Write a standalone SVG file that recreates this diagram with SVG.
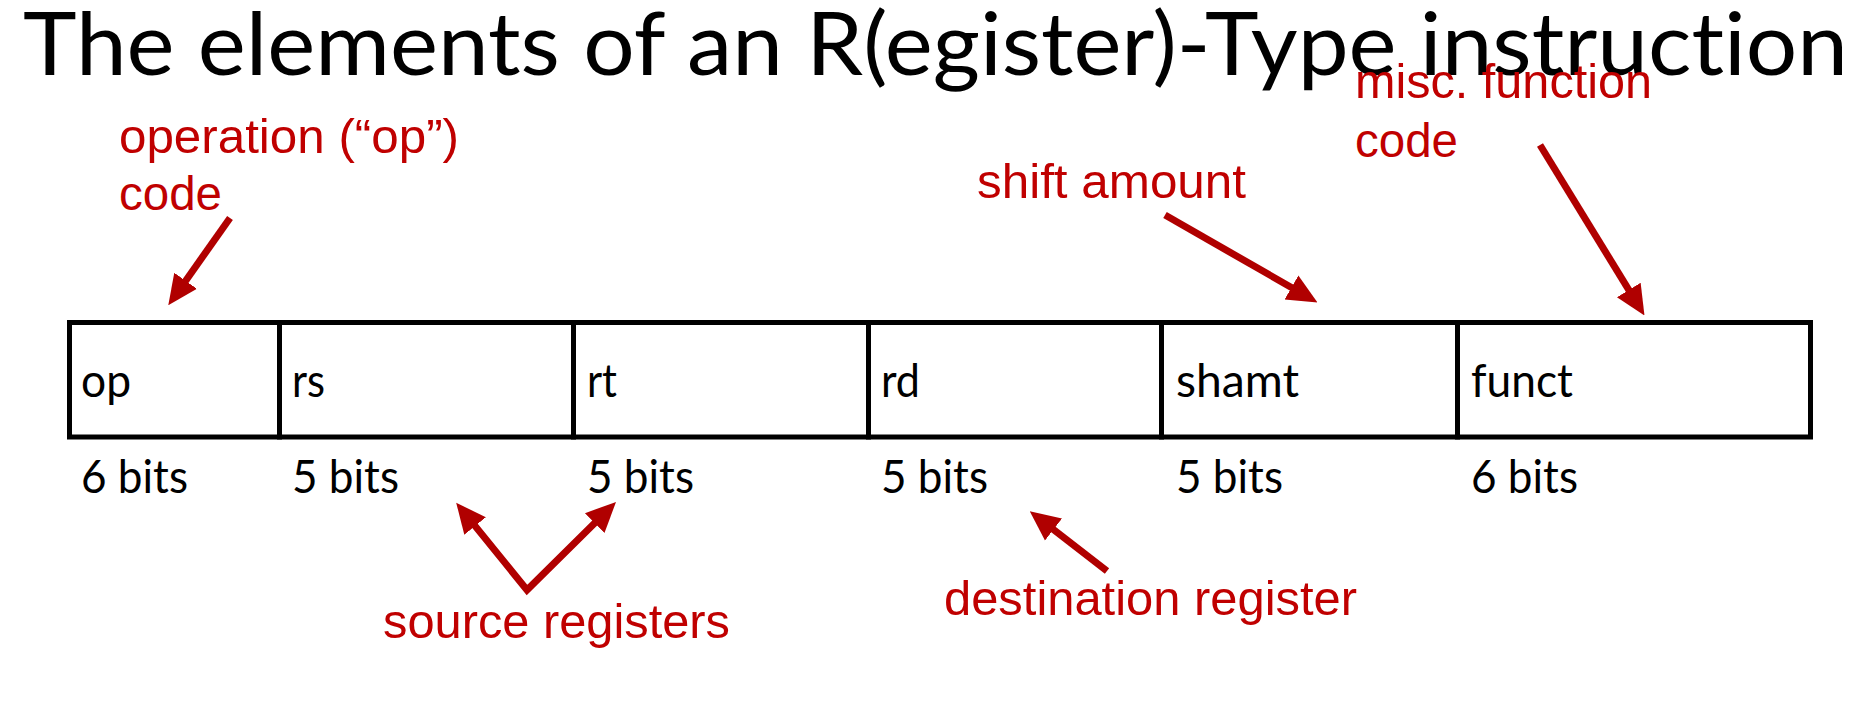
<svg xmlns="http://www.w3.org/2000/svg" width="1866" height="719" viewBox="0 0 1866 719">
<style>
.title{font-family:Lato,"Open Sans","Liberation Sans",sans-serif;font-size:88px;fill:#000;font-variant-ligatures:none}
.fld{font-family:Lato,"Open Sans","Liberation Sans",sans-serif;font-size:46px;fill:#000;font-variant-ligatures:none}
.red{font-family:"Liberation Sans",Arial,sans-serif;font-size:48px;fill:#C00000}
.cell{fill:#fff;stroke:#000;stroke-width:5}
.arr{fill:none;stroke:#B00000;stroke-width:7;stroke-linejoin:miter;marker-end:url(#ah)}
</style>
<defs>
<marker id="ah" markerUnits="userSpaceOnUse" markerWidth="30" markerHeight="30" viewBox="0 -13 27 26" refX="10" refY="0" orient="auto-start-reverse">
<path d="M0,-12.5 L27,0 L0,12.5 z" fill="#B00000"/>
</marker>
</defs>
<rect width="1866" height="719" fill="#fff"/>
<g id="title"><text class="title" x="23" y="75" textLength="1825" lengthAdjust="spacingAndGlyphs">The elements of an R(egister)-Type instruction</text></g>

<g id="field-op"><rect class="cell" x="69.5" y="322.5" width="210" height="114.5"/><text class="fld" x="81" y="397" textLength="50" lengthAdjust="spacingAndGlyphs">op</text><text class="fld" x="81" y="493" textLength="107" lengthAdjust="spacingAndGlyphs">6 bits</text></g>
<g id="field-rs"><rect class="cell" x="279.5" y="322.5" width="294" height="114.5"/><text class="fld" x="292" y="397" textLength="33" lengthAdjust="spacingAndGlyphs">rs</text><text class="fld" x="292" y="493" textLength="107" lengthAdjust="spacingAndGlyphs">5 bits</text></g>
<g id="field-rt"><rect class="cell" x="573.5" y="322.5" width="295" height="114.5"/><text class="fld" x="587" y="397" textLength="30" lengthAdjust="spacingAndGlyphs">rt</text><text class="fld" x="587" y="493" textLength="107" lengthAdjust="spacingAndGlyphs">5 bits</text></g>
<g id="field-rd"><rect class="cell" x="868.5" y="322.5" width="293" height="114.5"/><text class="fld" x="881" y="397" textLength="39" lengthAdjust="spacingAndGlyphs">rd</text><text class="fld" x="881" y="493" textLength="107" lengthAdjust="spacingAndGlyphs">5 bits</text></g>
<g id="field-shamt"><rect class="cell" x="1161.5" y="322.5" width="296" height="114.5"/><text class="fld" x="1176" y="397" textLength="123" lengthAdjust="spacingAndGlyphs">shamt</text><text class="fld" x="1176" y="493" textLength="107" lengthAdjust="spacingAndGlyphs">5 bits</text></g>
<g id="field-funct"><rect class="cell" x="1457.5" y="322.5" width="353" height="114.5"/><text class="fld" x="1471" y="397" textLength="102" lengthAdjust="spacingAndGlyphs">funct</text><text class="fld" x="1471" y="493" textLength="107" lengthAdjust="spacingAndGlyphs">6 bits</text></g>

<g id="label-op"><text class="red" x="119" y="153" textLength="340" lengthAdjust="spacingAndGlyphs">operation (“op”)</text><text class="red" x="119" y="210" textLength="103" lengthAdjust="spacingAndGlyphs">code</text></g>
<g id="label-funct"><text class="red" x="1355" y="98" textLength="297" lengthAdjust="spacingAndGlyphs">misc. function</text><text class="red" x="1355" y="157" textLength="103" lengthAdjust="spacingAndGlyphs">code</text></g>
<g id="label-shamt"><text class="red" x="977" y="198" textLength="269" lengthAdjust="spacingAndGlyphs">shift amount</text></g>
<g id="label-source"><text class="red" x="383" y="638" textLength="347" lengthAdjust="spacingAndGlyphs">source registers</text></g>
<g id="label-dest"><text class="red" x="944" y="615" textLength="413" lengthAdjust="spacingAndGlyphs">destination register</text></g>

<g id="connectors">
<path class="arr" d="M230,218 L179.2,289.9"/>
<path class="arr" d="M1165,215 L1301.1,293"/>
<path class="arr" d="M1540,145 L1634.6,299.4"/>
<path class="arr" d="M468.1,517.4 L527,590 L602.6,515.2" style="marker-start:url(#ah)"/>
<path class="arr" d="M1107,571 L1044.7,522.8"/>
</g>
</svg>
